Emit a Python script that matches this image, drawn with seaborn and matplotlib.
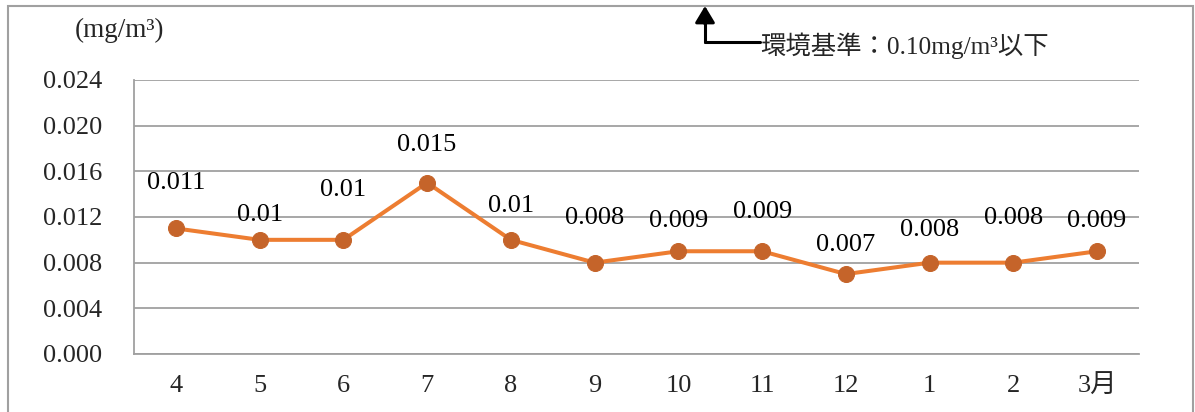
import matplotlib
matplotlib.use("Agg")
import matplotlib.pyplot as plt
from matplotlib.patches import Rectangle
from matplotlib.lines import Line2D
from matplotlib.ticker import FixedLocator, FuncFormatter
import seaborn as sns
import pandas as pd

# Monthly concentration readings (mg/m3)
months = ["4", "5", "6", "7", "8", "9", "10", "11", "12", "1", "2", "3月"]
values = [0.011, 0.010, 0.010, 0.015, 0.010, 0.008, 0.009, 0.009, 0.007, 0.008, 0.008, 0.009]
value_labels = ["0.011", "0.01", "0.01", "0.015", "0.01", "0.008", "0.009", "0.009",
                "0.007", "0.008", "0.008", "0.009"]
y_ticks = [0.000, 0.004, 0.008, 0.012, 0.016, 0.020, 0.024]
unit_label = "(mg/m³)"
standard_note = "環境基準：0.10mg/m³以下"

# Vertical offsets (pixels) of each value label above its point
label_lift = [47, 26, 51, 39, 35, 46, 32, 41, 30, 34, 46, 32]

sns.set_style("white")
plt.rcParams["font.family"] = ["Liberation Serif", "Noto Sans CJK JP"]

FS = 19
W, H = 1195, 412
fig = plt.figure(figsize=(W / 100, H / 100), dpi=100)
ax = fig.add_axes([134 / W, 1 - 354 / H, (1139 - 134) / W, (354 - 80) / H])

df = pd.DataFrame({"month": months, "value": values})
line_color = "#ED7D31"
marker_color = "#C5642A"
sns.lineplot(data=df, x="month", y="value", ax=ax, color=line_color, linewidth=2.9,
             marker="o", markersize=11.5, markerfacecolor=marker_color,
             markeredgecolor=marker_color, sort=False)

grey = "#A0A0A0"
ax.set_ylim(0, 0.024)
ax.set_xlim(-0.5, len(months) - 0.5)
ax.yaxis.set_major_locator(FixedLocator(y_ticks))
ax.yaxis.set_major_formatter(FuncFormatter(lambda v, p: f"{v:.3f}"))
ax.grid(axis="y", color=grey, linewidth=1.3)
ax.set_axisbelow(True)
for s in ["top", "right"]:
    ax.spines[s].set_visible(False)
for s in ["left", "bottom"]:
    ax.spines[s].set_color(grey)
    ax.spines[s].set_linewidth(1.3)

ax.set_xticks(range(len(months)))
ax.set_xticklabels(months)
ax.xaxis.set_minor_locator(FixedLocator([i - 0.5 for i in range(len(months) + 1)]))
ax.tick_params(axis="x", which="major", length=0, pad=15, labelsize=FS)
ax.tick_params(axis="x", which="minor", length=7, width=1.3, color=grey, direction="out")
ax.tick_params(axis="y", length=6, width=1.3, color=grey, direction="out", pad=17, labelsize=FS)
ax.set_xlabel("")
ax.set_ylabel("")

for i, (v, lab) in enumerate(zip(values, value_labels)):
    ax.annotate(lab, (i, v), xytext=(0, label_lift[i] * 0.72 - 1), textcoords="offset points",
                ha="center", va="center", fontsize=FS, color="#000000")

# Unit label and environmental standard note
fig.text(119 / W, 1 - 30 / H, unit_label, ha="center", va="center", fontsize=FS + 0.5)
fig.text(760 / W, 1 - 46 / H, standard_note, ha="left", va="center", fontsize=18.3)

# Elbow arrow pointing up to the standard level
fig.add_artist(Line2D([705 / W, 760 / W], [1 - 42 / H, 1 - 42 / H],
                      transform=fig.transFigure, color="black", linewidth=2.2))
fig.add_artist(Line2D([705 / W, 705 / W], [1 - 42 / H, 1 - 18 / H],
                      transform=fig.transFigure, color="black", linewidth=2.2))
ax.annotate("", xy=(705 / W, 1 - 6 / H), xycoords="figure fraction",
            xytext=(705 / W, 1 - 24 / H), textcoords="figure fraction",
            arrowprops=dict(arrowstyle="-|>,head_length=1.0,head_width=0.6",
                            color="black", linewidth=2.2, shrinkA=0, shrinkB=0))

# Chart frame
fig.add_artist(Rectangle((8 / W, -0.05), (1193 - 8) / W, 1 - 6 / H + 0.05,
                         transform=fig.transFigure, fill=False,
                         edgecolor=grey, linewidth=1.5))

fig.savefig("out.png", dpi=100)
